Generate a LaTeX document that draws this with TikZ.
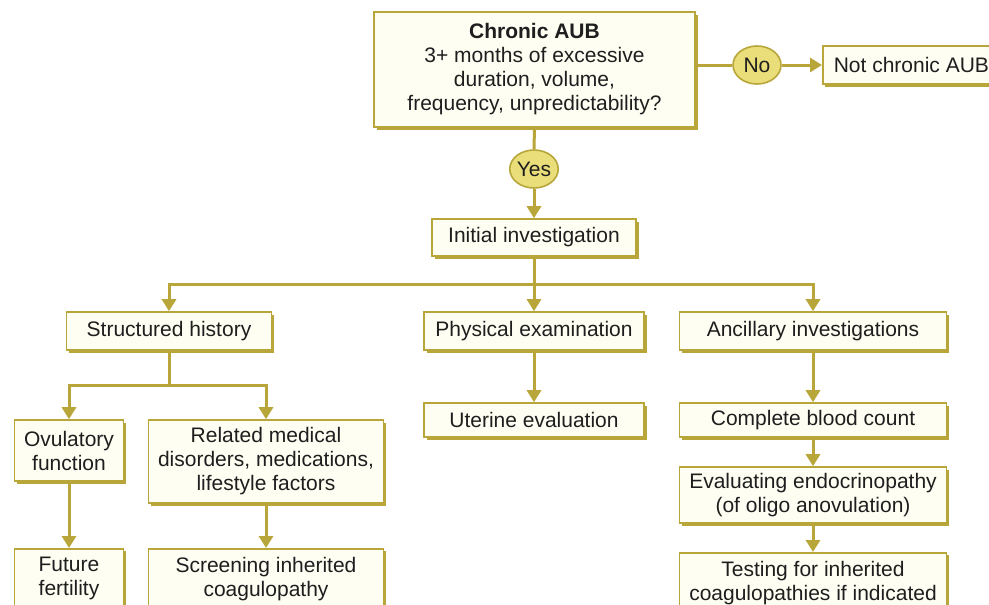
\documentclass[tikz,border=0pt]{standalone}
\usepackage{fontspec}
\setmainfont{Liberation Sans}
\usetikzlibrary{arrows.meta,shadows,shapes.geometric}
\definecolor{olv}{RGB}{184,166,58}
\definecolor{cream}{RGB}{255,254,243}
\definecolor{yel}{RGB}{233,222,122}
\definecolor{txt}{RGB}{30,30,30}
\begin{document}
\begin{tikzpicture}[x=1pt,y=-1pt,
  box/.style={draw=olv, line width=1.6pt, fill=cream, text=txt, align=center,
    inner sep=0pt, font=\fontsize{21}{24}\selectfont,
    general shadow={fill=olv, shadow xshift=2.5pt, shadow yshift=-2.5pt}},
  cutbox/.style={box, anchor=north, inner ysep=8pt},
  dec/.style={ellipse, draw=olv, line width=1.6pt, fill=yel, text=txt,
    minimum width=48pt, minimum height=38pt, inner sep=0pt,
    font=\fontsize{21}{24}\selectfont},
  conn/.style={draw=olv, line width=3pt},
  arr/.style={conn, -{Triangle[width=14pt,length=12pt]}}]
\useasboundingbox (0,0) rectangle (989,605);
\clip (0,0) rectangle (989,605);
\fill[white] (0,0) rectangle (989,605);

\node[box, minimum width=321pt, minimum height=115pt] (top) at (534.5,69.5)
  {\textbf{Chronic AUB}\\3+ months of excessive\\duration, volume,\\frequency, unpredictability?};
\node[dec] (no) at (757,65) {No};
\node[box, anchor=west, minimum height=38pt, inner xsep=11pt] (notc) at (822,65) {Not chronic AUB};
\node[dec] (yes) at (534,169) {Yes};
\node[box, minimum width=204pt, minimum height=37pt] (init) at (534,237.5) {Initial investigation};

\node[box, minimum width=205pt, minimum height=38pt] (sh) at (169,331) {Structured history};
\node[box, minimum width=220pt, minimum height=38pt] (pe) at (534,331) {Physical examination};
\node[box, minimum width=267pt, minimum height=38pt] (ai) at (813,331) {Ancillary investigations};

\node[box, minimum width=109pt, minimum height=61pt] (ov) at (69,450.5) {Ovulatory\\function};
\node[box, minimum width=235pt, minimum height=83pt] (rel) at (266,461.5)
  {Related medical\\disorders, medications,\\lifestyle factors};
\node[cutbox, minimum width=109pt] (ff) at (69,548) {Future\\fertility};
\node[cutbox, minimum width=235pt] (scr) at (266,548) {Screening inherited\\coagulopathy};

\node[box, minimum width=220pt, minimum height=34pt] (ue) at (534,420) {Uterine evaluation};
\node[box, minimum width=267pt, minimum height=34pt] (cbc) at (813,420) {Complete blood count};
\node[box, minimum width=267pt, minimum height=56pt] (ev) at (813,495)
  {Evaluating endocrinopathy\\(of oligo anovulation)};
\node[cutbox, minimum width=267pt] (test) at (813,552)
  {Testing for inherited\\coagulopathies if indicated};

\coordinate (j1) at (534,284);
\coordinate (j2) at (169,385);

\draw[conn] (no.west) -- (no.west -| top.east);
\draw[arr] (no.east) -- (notc.west);
\draw[conn] (top.south) -- (yes.north);
\draw[arr] (yes.south) -- (init.north);
\draw[conn] (init.south) -- (j1);
\draw[arr] (j1) -| (sh.north);
\draw[arr] (j1) -| (ai.north);
\draw[arr] (j1) -- (pe.north);
\draw[conn] (sh.south) -- (j2);
\draw[arr] (j2) -| (ov.north);
\draw[arr] (j2) -| (rel.north);
\draw[arr] (ov.south) -- (ff.north);
\draw[arr] (rel.south) -- (scr.north);
\draw[arr] (pe.south) -- (ue.north);
\draw[arr] (ai.south) -- (cbc.north);
\draw[arr] (cbc.south) -- (ev.north);
\draw[arr] (ev.south) -- (test.north);
\end{tikzpicture}
\end{document}
